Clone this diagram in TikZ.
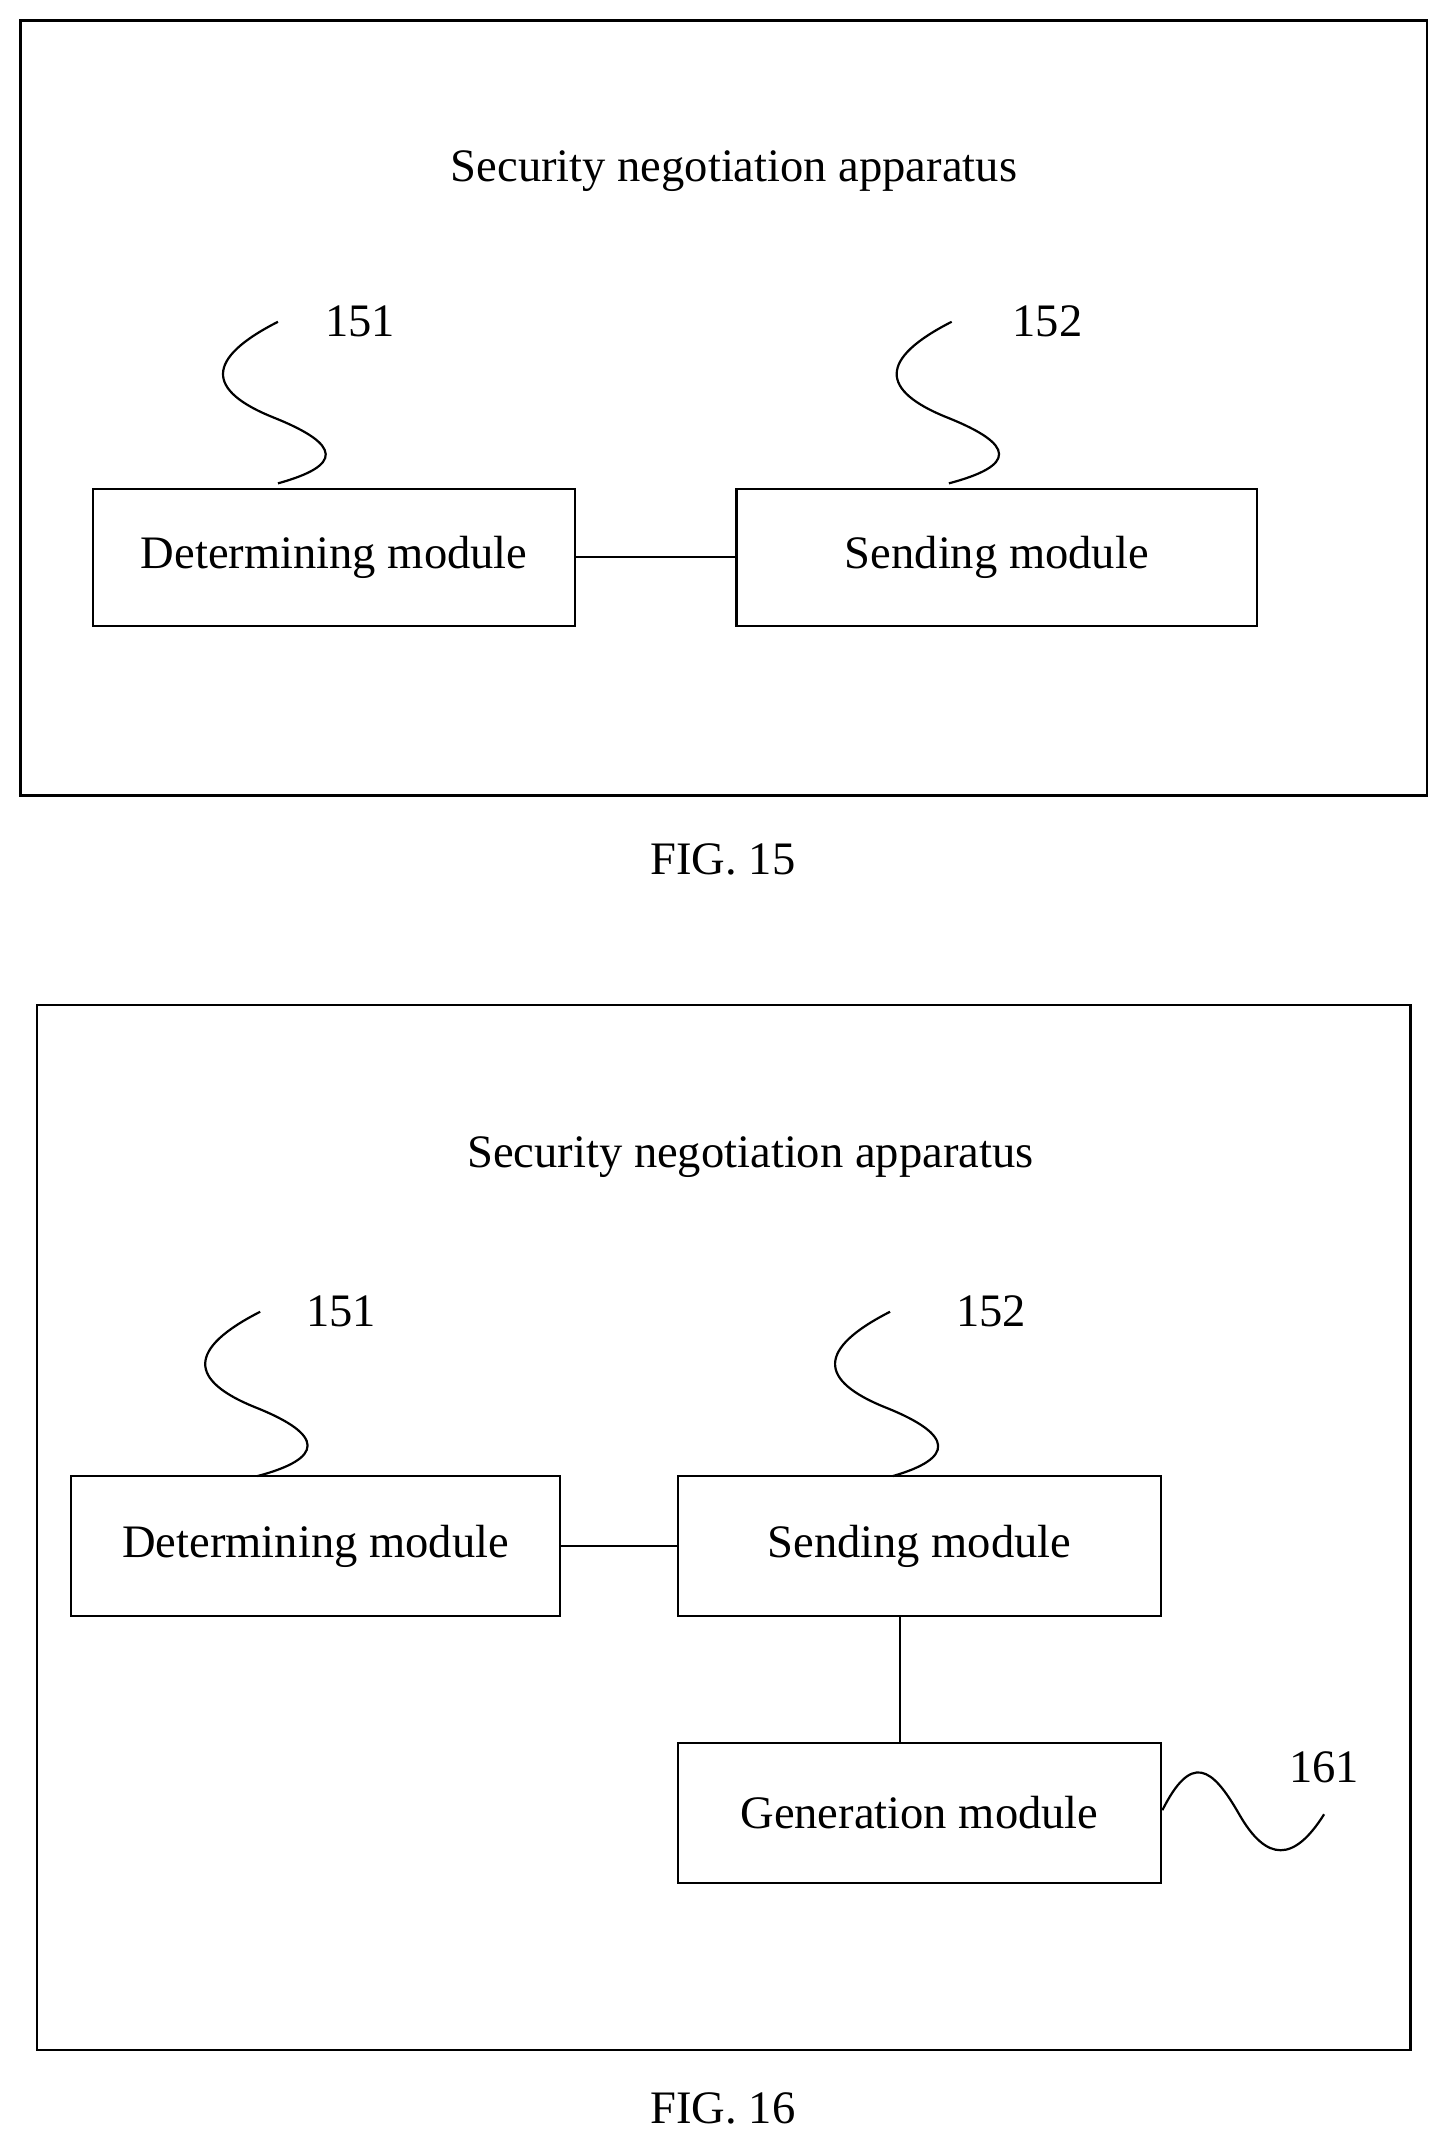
\documentclass[tikz,border=0pt]{standalone}
\usepackage{fontspec}
\setmainfont{Liberation Serif}
\usetikzlibrary{positioning}
\tikzset{
  module/.style={draw, line width=0.9pt, minimum height=50pt, inner sep=0pt, font=\fontsize{17}{20}\selectfont},
  frame/.style={draw, line width=0.9pt},
  lbl/.style={font=\fontsize{17}{20}\selectfont},
  wire/.style={line width=0.8pt}
}
\begin{document}
\begin{tikzpicture}[x=0.5pt,y=-0.5pt]
		\useasboundingbox (0,0) rectangle (1058,1568);
		% FIG. 15
		\draw[frame] (15,15) rectangle (1042,581);
		\node[lbl] (title15) at (536,125) {Security negotiation apparatus};
		\node[module, minimum width=176pt] (det15) at (244,407) {Determining module};
		\node[module, minimum width=190pt] (send15) at (728,407) {Sending module};
		\draw[wire] (det15) -- (send15);
		\coordinate (s151) at (203,235);
		\coordinate (s152) at (695,235);
		\node[lbl] (n151a) at (263,235) {151};
		\node[lbl] (n152a) at (765,235) {152};
		\draw[wire] (s151) .. controls (150,262) and (150,285) .. (200,305) .. controls (250,325) and (250,340) .. (203,353);
		\draw[wire] (s152) .. controls (642,262) and (642,285) .. (692,305) .. controls (742,325) and (742,340) .. (693,353);
		\node[lbl] (fig15) at (528,628) {FIG. 15};
		% FIG. 16
		\draw[frame] (27,734) rectangle (1030,1497);
		\node[lbl] (title16) at (548,845) {Security negotiation apparatus};
		\node[module, minimum width=178.5pt, minimum height=51pt] (det16) at (230.5,1129) {Determining module};
		\node[module, minimum width=176.5pt, minimum height=51pt] (send16) at (671.5,1129) {Sending module};
		\node[module, minimum width=176.5pt, minimum height=51pt] (gen16) at (671.5,1324) {Generation module};
		\draw[wire] (det16) -- (send16);
		\draw[wire] (send16.south -| 657,0) -- (gen16.north -| 657,0);
		\coordinate (s151b) at (190,958);
		\coordinate (s152b) at (650,958);
		\coordinate (s161) at (967,1325);
		\node[lbl] (n151b) at (249,958) {151};
		\node[lbl] (n152b) at (724,958) {152};
		\node[lbl] (n161) at (967,1291) {161};
		\draw[wire] (s151b) .. controls (137,985) and (137,1008) .. (187,1028) .. controls (237,1048) and (237,1065) .. (188,1078);
		\draw[wire] (s152b) .. controls (597,985) and (597,1008) .. (647,1028) .. controls (697,1048) and (697,1065) .. (652,1078);
		\draw[wire] (gen16.east |- 0,1322) .. controls (870,1280) and (885,1290) .. (905,1325) .. controls (925,1360) and (945,1360) .. (s161);
		\node[lbl] (fig16) at (528,1540) {FIG. 16};
\end{tikzpicture}
\end{document}
